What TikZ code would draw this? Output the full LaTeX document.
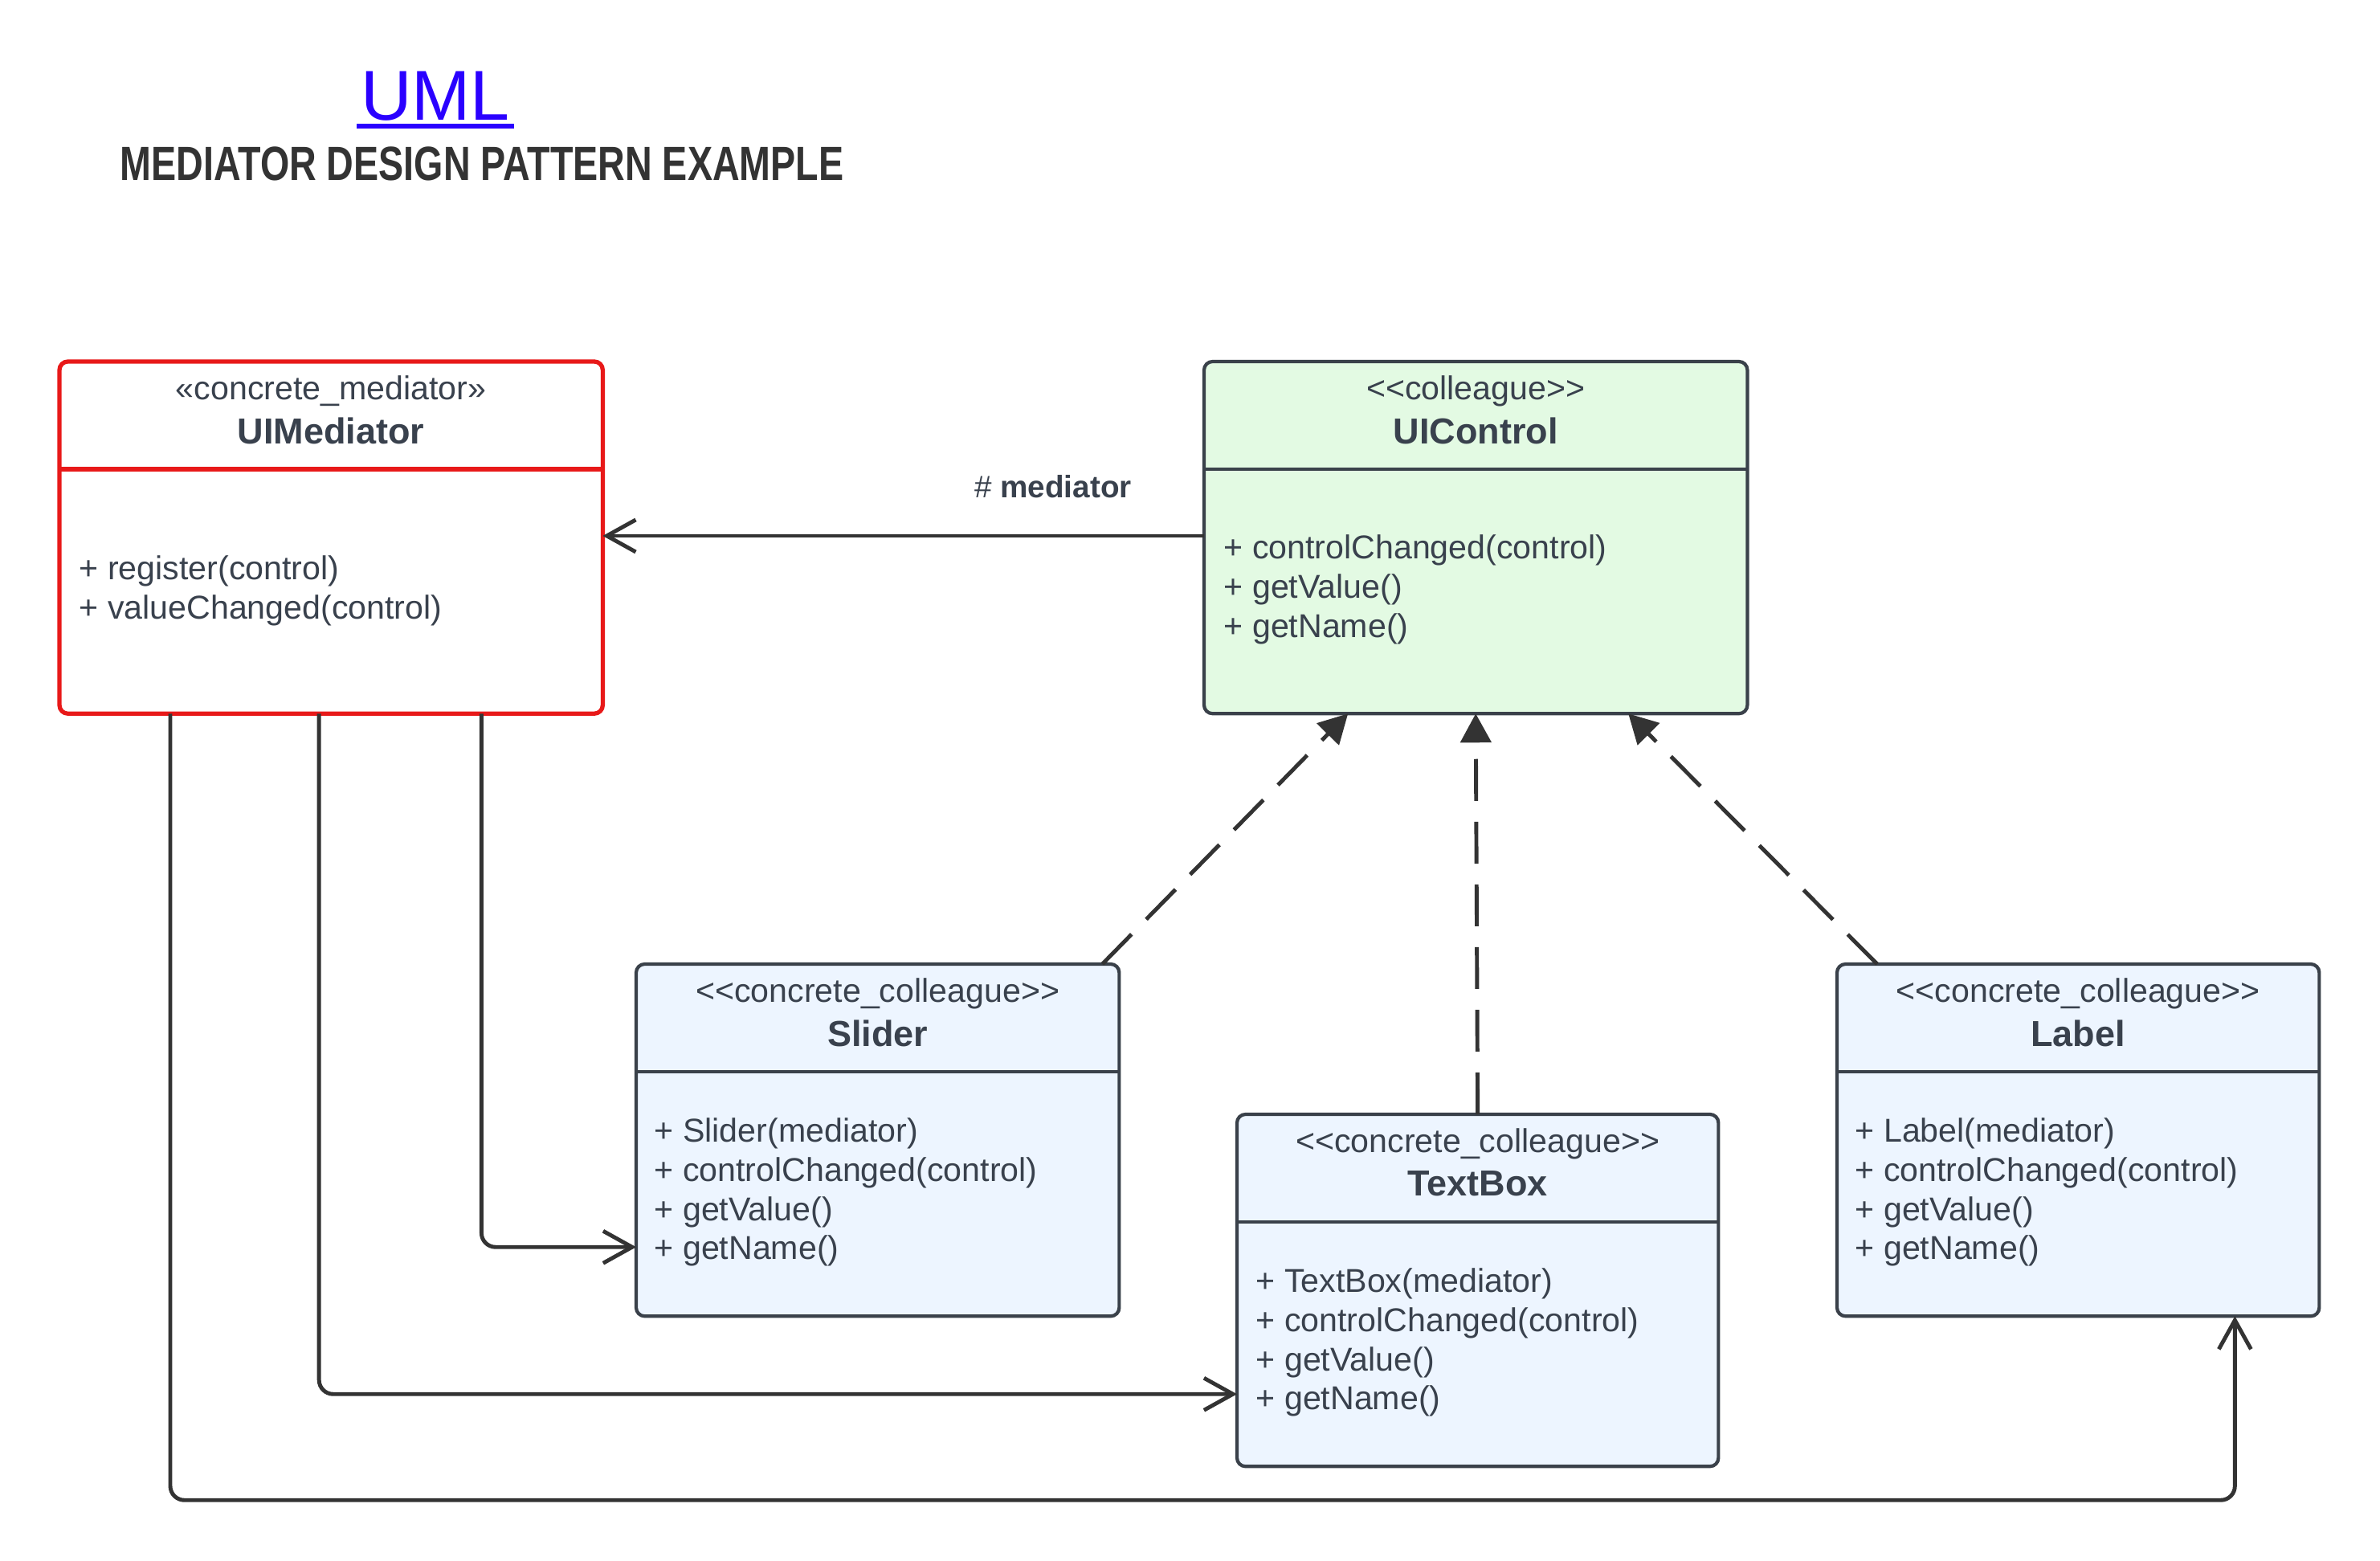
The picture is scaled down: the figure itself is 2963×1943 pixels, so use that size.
\documentclass[tikz,border=0pt]{standalone}
\usepackage{fontspec}
\setmainfont{Liberation Sans}[Ligatures=TeXOff]
\newfontfamily\headfont[FakeStretch=0.78]{Liberation Sans}
\usetikzlibrary{arrows.meta,calc,positioning}

\definecolor{textcol}{HTML}{39414D}
\definecolor{linecol}{HTML}{333333}
\definecolor{boxline}{HTML}{3A414A}
\definecolor{mediatorred}{HTML}{E81919}
\definecolor{controlgreen}{HTML}{E3FAE3}
\definecolor{colleagueblue}{HTML}{EDF5FF}
\definecolor{umlblue}{HTML}{2A00FF}

\begin{document}
\begin{tikzpicture}[x=0.01cm,y=-0.01cm,
    classbox/.style={draw=boxline,line width=1.2pt,rounded corners=3pt,anchor=north west,
      inner sep=0pt,outer sep=0pt,minimum height=4.38cm},
    stereo/.style={font=\fontsize{11.7}{14}\selectfont,text=textcol,inner sep=0pt},
    cname/.style={font=\fontsize{12.8}{15}\selectfont\bfseries,text=textcol,inner sep=0pt},
    ops/.style={font=\fontsize{11.7}{13.9}\selectfont,text=textcol,align=left,anchor=west,inner sep=0pt},
    assoc/.style={draw=linecol,line width=1.4pt,rounded corners=5pt,-{Straight Barb[length=0.36cm,width=0.4cm]}},
    realize/.style={draw=linecol,line width=1.4pt,dash pattern=on 0.52cm off 0.26cm,
      -{Triangle[length=0.36cm,width=0.38cm]}}]
    \useasboundingbox (0,0) rectangle (2963,1943);

    % title
    \node[anchor=base,inner sep=0pt,text=umlblue,font=\fontsize{25}{29}\selectfont] (umlTitle) at (542,150) {UML};
    \draw[umlblue,line width=1.7pt] ($(umlTitle.base west)+(-4,7)$) -- ($(umlTitle.base east)+(4,7)$);
    \node[anchor=base,inner sep=0pt,text=linecol,font=\headfont\bfseries\fontsize{17}{20}\selectfont] (patternTitle) at (600,225) {MEDIATOR DESIGN PATTERN EXAMPLE};

    % classes
    \node[classbox,draw=mediatorred,line width=1.5pt,fill=white,minimum width=6.76cm] (mediator) at (74,450) {};
    \node[classbox,fill=controlgreen,minimum width=6.76cm] (control) at (1499,450) {};
    \node[classbox,fill=colleagueblue,minimum width=6.01cm] (slider) at (792,1200) {};
    \node[classbox,fill=colleagueblue,minimum width=5.99cm] (textbox) at (1540,1387) {};
    \node[classbox,fill=colleagueblue,minimum width=6.00cm] (label) at (2287,1200) {};

    \draw[mediatorred,line width=1.5pt] ($(mediator.north west)+(0,134)$) -- ($(mediator.north east)+(0,134)$);
    \draw[boxline,line width=1.2pt] ($(control.north west)+(0,134)$) -- ($(control.north east)+(0,134)$);
    \draw[boxline,line width=1.2pt] ($(slider.north west)+(0,134)$) -- ($(slider.north east)+(0,134)$);
    \draw[boxline,line width=1.2pt] ($(textbox.north west)+(0,134)$) -- ($(textbox.north east)+(0,134)$);
    \draw[boxline,line width=1.2pt] ($(label.north west)+(0,134)$) -- ($(label.north east)+(0,134)$);

    \node[stereo] (mediatorStereo) at ($(mediator.north)+(0,37)$) {«concrete\_mediator»};
    \node[cname] (mediatorName) at ($(mediator.north)+(0,86)$) {UIMediator};
    \node[ops] (mediatorOps) at (98,735) {+ register(control)\\+ valueChanged(control)};

    \node[stereo] (controlStereo) at ($(control.north)+(0,37)$) {<<colleague>>};
    \node[cname] (controlName) at ($(control.north)+(0,86)$) {UIControl};
    \node[ops] (controlOps) at (1523,734) {+ controlChanged(control)\\+ getValue()\\+ getName()};

    \node[stereo] (sliderStereo) at ($(slider.north)+(0,37)$) {<<concrete\_colleague>>};
    \node[cname] (sliderName) at ($(slider.north)+(0,86)$) {Slider};
    \node[ops] (sliderOps) at (814,1484) {+ Slider(mediator)\\+ controlChanged(control)\\+ getValue()\\+ getName()};

    \node[stereo] (textboxStereo) at ($(textbox.north)+(0,37)$) {<<concrete\_colleague>>};
    \node[cname] (textboxName) at ($(textbox.north)+(0,86)$) {TextBox};
    \node[ops] (textboxOps) at (1563,1671) {+ TextBox(mediator)\\+ controlChanged(control)\\+ getValue()\\+ getName()};

    \node[stereo] (labelStereo) at ($(label.north)+(0,37)$) {<<concrete\_colleague>>};
    \node[cname] (labelName) at ($(label.north)+(0,86)$) {Label};
    \node[ops] (labelOps) at (2309,1484) {+ Label(mediator)\\+ controlChanged(control)\\+ getValue()\\+ getName()};

    % association to the mediator
    \draw[assoc] ($(control.north west)+(0,217)$) -- ($(mediator.north east)+(0,217)$);
    \node[text=textcol,inner sep=0pt,font=\fontsize{11}{13}\selectfont] (roleLabel) at (1311,606) {\# \textbf{mediator}};

    % realizations
    \draw[realize] ($(slider.north east)+(-21,0)$) -- ($(control.south)+(-159,0)$);
    \draw[realize] (textbox.north) -- (control.south);
    \draw[realize] ($(label.north west)+(50,0)$) -- ($(control.south)+(190,0)$);

    % mediator to colleagues
    \coordinate (labelIn) at ($(label.south east)+(-105,0)$);
    \draw[assoc] ($(mediator.south east)+(-151,0)$) |- ($(slider.south west)+(0,-86)$);
    \draw[assoc] ($(mediator.south)+(-15,0)$) |- ($(textbox.south west)+(0,-90)$);
    \draw[assoc] ($(mediator.south west)+(138,0)$) |- ($(labelIn)+(0,229)$) -- (labelIn);
\end{tikzpicture}
\end{document}
